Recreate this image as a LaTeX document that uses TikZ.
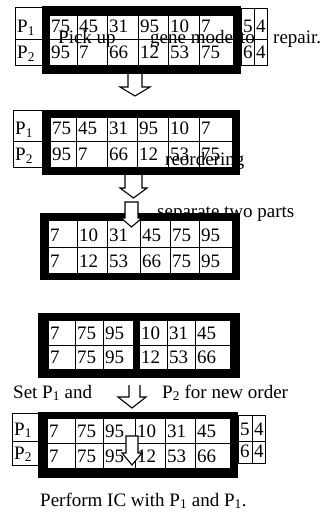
\documentclass[tikz,border=0pt]{standalone}
\usepackage{fontspec}
\setmainfont{Liberation Serif}

\tikzset{
  frame/.style={fill=black},
  cell/.style={draw=black, fill=white, line width=0.8pt},
  num/.style={anchor=base west, inner sep=0pt, font=\fontsize{19}{19}\selectfont},
  caption/.style={anchor=base west, inner sep=0pt, font=\fontsize{19}{19}\selectfont},
  hollow/.style={draw=black, line width=1.1pt, line join=miter},
}

% one row of cells: name prefix, top y, bottom y, list of x0/x1/value
\newcommand\cellrow[4]{%
  \foreach \xa/\xb/\val [count=\i] in {#4} {
    \draw[cell] (\xa,#2) rectangle (\xb,#3);
    \node[num] (#1\i) at (\xa+2,#3-6) {\val};
  }}

\begin{document}
\begin{tikzpicture}[x=1pt,y=-1pt]
\useasboundingbox (0,0) rectangle (327,529);

% ---------- chromosome pair with tail genes ----------
\fill[frame] (42,6) rectangle (241,74);
\cellrow{ba}{15}{39}{49/77/75, 77/107/45, 107/138/31, 138/168/95, 168/199/10, 199/233/7}
\cellrow{bb}{39}{65}{49/77/95, 77/107/7, 107/138/66, 138/168/12, 168/199/53, 199/233/75}
\cellrow{pa}{7}{39}{15/42/P\textsubscript{1}}
\cellrow{pb}{39}{65}{15/42/P\textsubscript{2}}
\cellrow{ta}{8}{39}{241/254/5, 254/267/4}
\cellrow{tb}{39}{65}{241/254/6, 254/267/4}
\node[caption] (pick) at (58,44) {Pick up};
\node[caption] (gene) at (150,44) {gene mode};
\node[caption] (to) at (240,44) {to};
\node[caption] (repair) at (273,44) {repair.};

\draw[hollow] (128,74) -- (128,87) -- (120,87) -- (135,96) -- (150,87) -- (142,87) -- (142,74);

% ---------- picked segment ----------
\fill[frame] (42,110) rectangle (240,175);
\cellrow{ca}{117}{141}{50/76/75, 76/107/45, 107/137/31, 137/168/95, 168/199/10, 199/232/7}
\cellrow{cb}{141}{167}{50/76/95, 76/107/7, 107/137/66, 137/168/12, 168/199/53, 199/232/75}
\cellrow{qa}{110}{141}{13/42/P\textsubscript{1}}
\cellrow{qb}{141}{167}{13/42/P\textsubscript{2}}
\node[caption] (reord) at (165,166) {reordering};

\draw[hollow] (125,175) -- (125,188) -- (120,188) -- (133.5,198) -- (147,188) -- (142,188) -- (142,175);

% ---------- sorted segment ----------
\node[caption] (sep) at (157,218) {separate two parts};
\fill[frame] (40,213) rectangle (240,280);
\cellrow{da}{220}{247}{48/77/7, 77/107/10, 107/140/31, 140/170/45, 170/199/75, 199/232/95}
\cellrow{db}{247}{273}{48/77/7, 77/107/12, 107/140/53, 140/170/66, 170/199/75, 199/232/95}
\filldraw[hollow, fill=white] (125,202) -- (125,218) -- (121,218) -- (131.5,227) -- (142,218) -- (138,218) -- (138,202) -- cycle;

% ---------- split into two parts ----------
\fill[frame] (38,313) rectangle (240,378);
\cellrow{ea}{320}{345}{48/75/7, 75/103/75, 103/133/95}
\cellrow{eb}{345}{369}{48/75/7, 75/103/75, 103/133/95}
\cellrow{fa}{320}{345}{139/167/10, 167/195/31, 195/230/45}
\cellrow{fb}{345}{369}{139/167/12, 167/195/53, 195/230/66}

\node[caption] (setp) at (13,398) {Set P\textsubscript{1} and};
\node[caption] (newo) at (162,398) {P\textsubscript{2} for new order};
\draw[hollow] (129,385) -- (129,397) -- (118,397) -- (132,408) -- (146,397) -- (140,397) -- (140,385);

% ---------- new order ----------
\fill[frame] (38,412) rectangle (238,478);
\cellrow{ga}{418}{443}{47/75/7, 75/103/75, 103/135/95, 135/165/10, 165/195/31, 195/230/45}
\cellrow{gb}{443}{468}{47/75/7, 75/103/75, 103/135/95, 135/165/12, 165/195/53, 195/230/66}
\cellrow{ra}{413}{441}{12/38/P\textsubscript{1}}
\cellrow{rb}{441}{465}{12/38/P\textsubscript{2}}
\cellrow{ua}{415}{441}{238/252/5, 252/265/4}
\cellrow{ub}{441}{463}{238/252/6, 252/265/4}
\filldraw[hollow, fill=white] (126,436) -- (126,453) -- (122,453) -- (132,465) -- (142,453) -- (138,453) -- (138,436) -- cycle;

\node[caption] (perf) at (40,506) {Perform IC with P\textsubscript{1} and P\textsubscript{1}.};
\end{tikzpicture}
\end{document}
